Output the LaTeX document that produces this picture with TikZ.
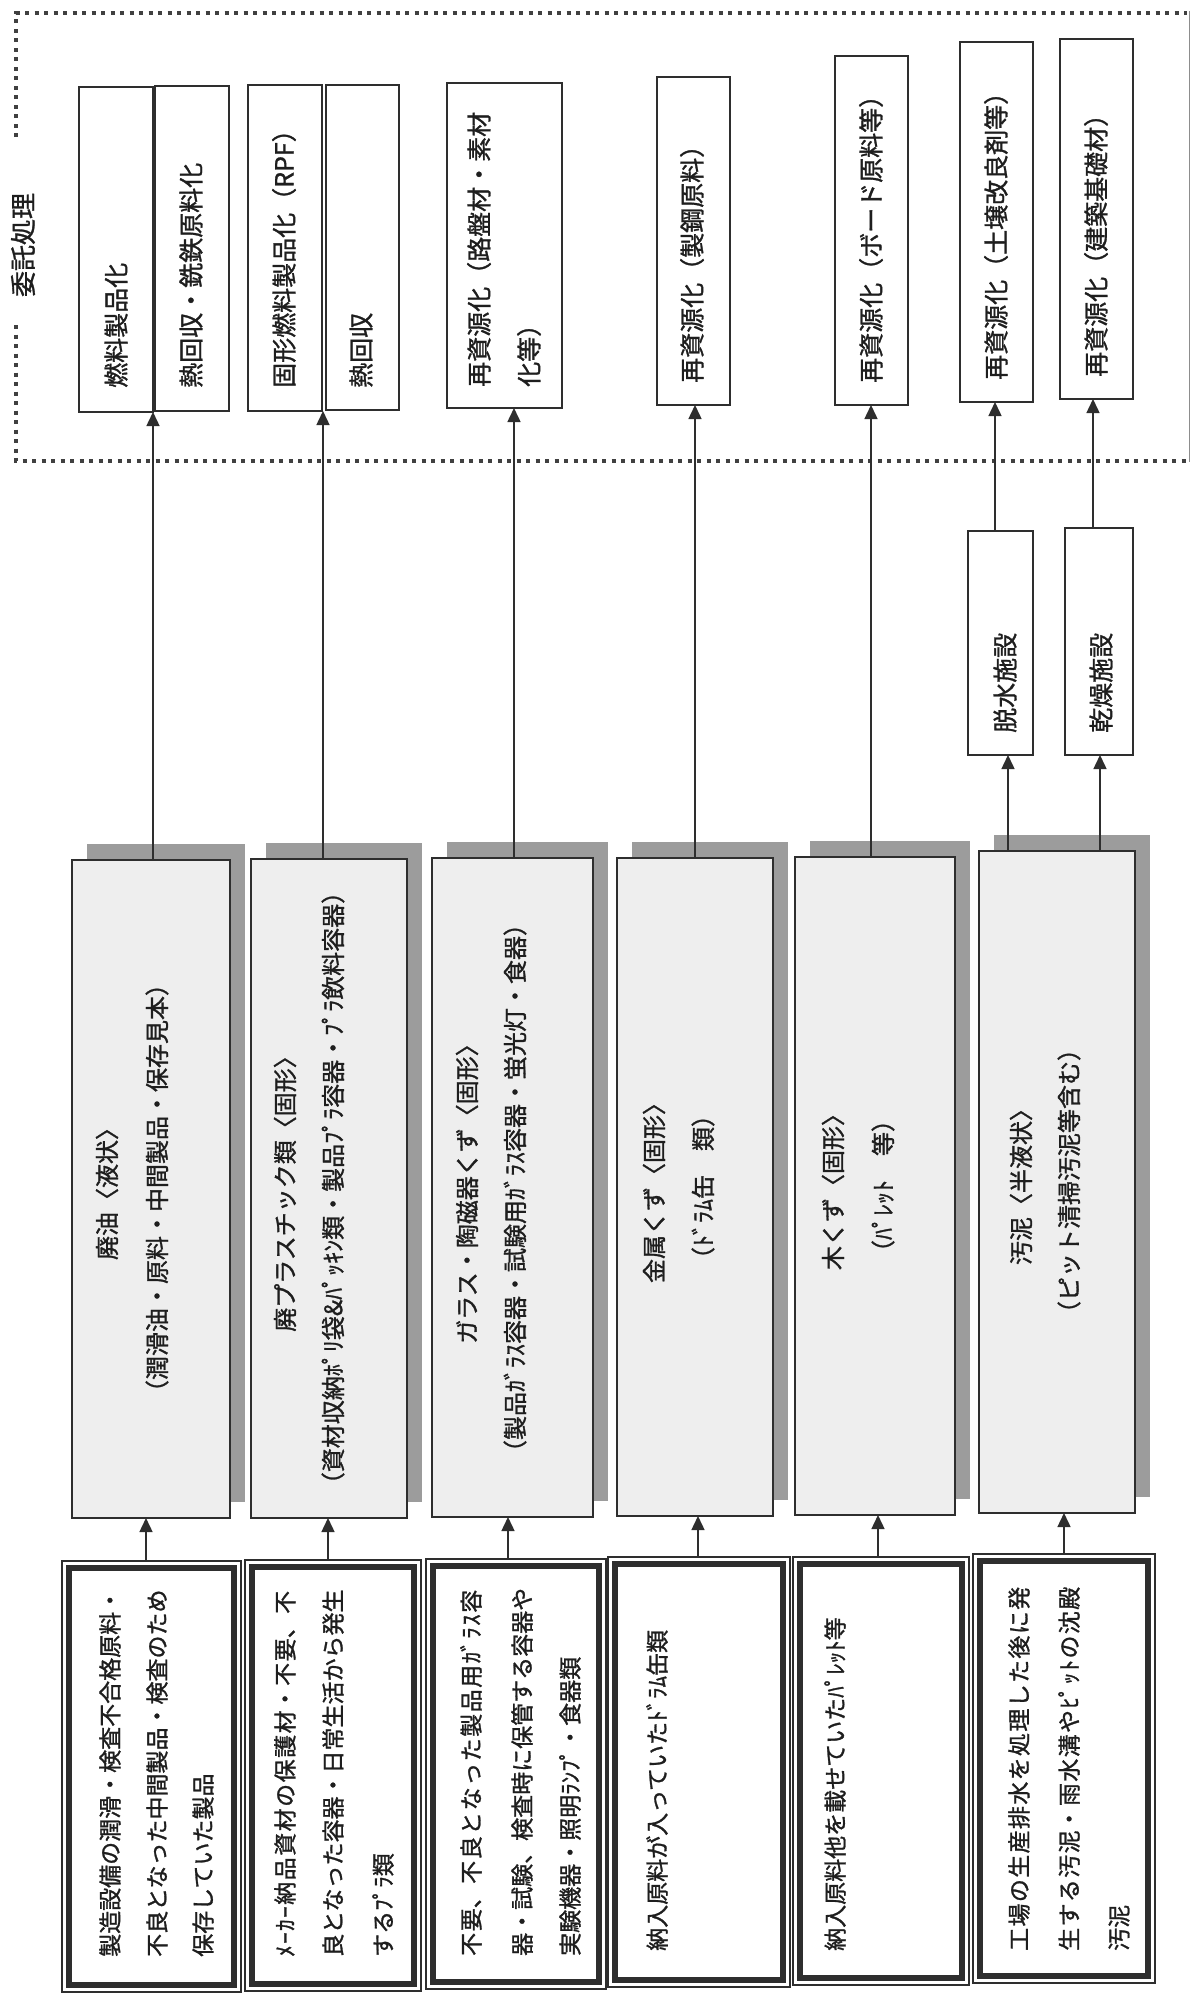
\documentclass[tikz,border=0pt]{standalone}
\usepackage{fontspec}
\newfontfamily\jp[FakeBold=1.2]{Noto Sans CJK JP}
\usetikzlibrary{arrows.meta,fit,calc,shadows}
\newcommand\jline[2]{\parbox{#1}{\XeTeXlinebreaklocale "ja"\XeTeXlinebreakskip=0pt plus 1fil\relax\parfillskip=0pt\parindent=0pt\leftskip=0pt\rightskip=0pt #2}}
\definecolor{linec}{HTML}{2E2E2E}
\definecolor{txtc}{HTML}{1E1E1E}
\definecolor{midc}{HTML}{EEEEEE}
\definecolor{shadc}{HTML}{9C9C9C}
\definecolor{dotc}{HTML}{404040}
\tikzset{
  tbox/.style={draw=linec, line width=1.4pt, fill=white, inner sep=0pt, outer sep=0pt},
  mbox/.style={draw=linec, line width=1.8pt, fill=midc, inner sep=0pt, outer sep=0pt,
     drop shadow={shadow xshift=15pt, shadow yshift=16pt, opacity=1, fill=shadc}},
  sbox/.style={draw=linec, line width=1.1pt, fill=white, inner sep=0pt, outer sep=0pt},
  arr/.style={draw=linec, line width=1.5pt, -{Triangle[length=14pt,width=13pt]}},
  rt/.style={rotate=90, inner sep=0pt, text=txtc},
  ttext/.style={rt, anchor=west, font=\jp\fontsize{25}{30}\selectfont},
  mtext/.style={rt, anchor=center, font=\jp\fontsize{24}{29}\selectfont},
  stext/.style={rt, anchor=west, font=\jp\fontsize{23}{28}\selectfont},
  dotline/.style={draw=dotc, line width=4pt, dash pattern=on 4pt off 5.5pt},
}
\newcommand\srcframe[1]{\draw[linec, line width=6pt] ($(#1.south west)+(7,-7)$) rectangle ($(#1.north east)+(-7,7)$);}
\begin{document}
\begin{tikzpicture}[x=1pt,y=-1pt]
\fill[white] (0,0) rectangle (1191,1998);
\useasboundingbox (0,0) rectangle (1191,1998);

% ---- outsourced processing frame ----
\draw[dotline] (16,137) -- (16,13) -- (1187,13);
\draw[dotline] (16,325) -- (16,461) -- (1187,461);
\draw[dotc!60, line width=1pt] (1189,11) -- (1189,462);
\node[rt, anchor=center, font=\jp\fontsize{26}{30}\selectfont] (lab) at (23,245) {委託処理};

% ---- target boxes ----
\node[tbox, fit={(79,87)(153,412)}] (t1a) {};
\node[tbox, fit={(155,86)(229,411)}] (t1b) {};
\node[tbox, fit={(248,85)(322,411)}] (t2a) {};
\node[tbox, fit={(326,85)(399,410)}] (t2b) {};
\node[tbox, fit={(447,83)(562,408)}] (t3) {};
\node[tbox, fit={(657,77)(730,405)}] (t4) {};
\node[tbox, fit={(835,56)(908,405)}] (t5) {};
\node[tbox, fit={(960,42)(1033,402)}] (t6) {};
\node[tbox, fit={(1060,39)(1133,399)}] (t7) {};

\node[ttext] (t1aL) at (116,388) {燃料製品化};
\node[ttext] (t1bL) at (191,388) {熱回収・銑鉄原料化};
\node[ttext] (t2aL) at (284,388) {固形燃料製品化（RPF）};
\node[ttext] (t2bL) at (361,388) {熱回収};
\node[ttext] (t3L1) at (479,387) {再資源化（路盤材・素材};
\node[ttext] (t3L2) at (529,387) {化等）};
\node[ttext] (t4L) at (692,383) {再資源化（製鋼原料）};
\node[ttext] (t5L) at (871,383) {再資源化（ボード原料等）};
\node[ttext] (t6L) at (996,380) {再資源化（土壌改良剤等）};
\node[ttext] (t7L) at (1096,377) {再資源化（建築基礎材）};

% ---- intermediate facilities ----
\node[tbox, fit={(968,531)(1033,755)}] (d1) {};
\node[tbox, fit={(1065,528)(1133,755)}] (d2) {};
\node[ttext] (d1L) at (1005,733) {脱水施設};
\node[ttext] (d2L) at (1101,733) {乾燥施設};

% ---- waste category boxes ----
\node[mbox, fit={(72,860)(230,1518)}] (m1) {};
\node[mbox, fit={(251,859)(407,1518)}] (m2) {};
\node[mbox, fit={(432,858)(593,1517)}] (m3) {};
\node[mbox, fit={(617,858)(773,1516)}] (m4) {};
\node[mbox, fit={(795,857)(955,1515)}] (m5) {};
\node[mbox, fit={(979,851)(1135,1513)}] (m6) {};

\node[mtext] (m1L1) at (107,1188) {廃油〈液状〉};
\node[mtext] (m1L2) at (157,1188) {（潤滑油・原料・中間製品・保存見本）};
\node[mtext] (m2L1) at (285,1188) {廃プラスチック類〈固形〉};
\node[mtext] (m2L2) at (333,1188) {（資材収納ﾎﾟﾘ袋\&ﾊﾟｯｷﾝ類・製品ﾌﾟﾗ容器・ﾌﾟﾗ飲料容器）};
\node[mtext] (m3L1) at (467,1188) {ガラス・陶磁器くず〈固形〉};
\node[mtext] (m3L2) at (515,1188) {（製品ｶﾞﾗｽ容器・試験用ｶﾞﾗｽ容器・蛍光灯・食器）};
\node[mtext] (m4L1) at (654,1187) {金属くず〈固形〉};
\node[mtext] (m4L2) at (703,1187) {（ﾄﾞﾗﾑ缶　類）};
\node[mtext] (m5L1) at (833,1186) {木くず〈固形〉};
\node[mtext] (m5L2) at (883,1186) {（ﾊﾟﾚｯﾄ　等）};
\node[mtext] (m6L1) at (1021,1181) {汚泥〈半液状〉};
\node[mtext] (m6L2) at (1069,1181) {（ピット清掃汚泥等含む）};

% ---- source boxes ----
\node[sbox, fit={(62,1561)(241,1992)}] (s1) {};
\node[sbox, fit={(245,1560)(421,1991)}] (s2) {};
\node[sbox, fit={(426,1559)(606,1989)}] (s3) {};
\node[sbox, fit={(608,1557)(790,1987)}] (s4) {};
\node[sbox, fit={(793,1557)(969,1985)}] (s5) {};
\node[sbox, fit={(973,1554)(1155,1983)}] (s6) {};
\srcframe{s1}\srcframe{s2}\srcframe{s3}\srcframe{s4}\srcframe{s5}\srcframe{s6}

\node[stext] (s1L1) at (110,1957) {製造設備の潤滑・検査不合格原料・};
\node[stext] (s1L2) at (157,1957) {不良となった中間製品・検査のため};
\node[stext] (s1L3) at (203,1957) {保存していた製品};
\node[stext] (s2L1) at (285,1957) {\jline{366pt}{ﾒｰｶｰ納品資材の保護材・不要、不}};
\node[stext] (s2L2) at (333,1957) {良となった容器・日常生活から発生};
\node[stext] (s2L3) at (383,1957) {するﾌﾟﾗ類};
\node[stext] (s3L1) at (471,1956) {\jline{366pt}{不要、不良となった製品用ｶﾞﾗｽ容}};
\node[stext] (s3L2) at (522,1956) {器・試験、検査時に保管する容器や};
\node[stext] (s3L3) at (570,1956) {実験機器・照明ﾗﾝﾌﾟ・食器類};
\node[stext] (s4L1) at (657,1951) {納入原料が入っていたﾄﾞﾗﾑ缶類};
\node[stext] (s5L1) at (835,1951) {納入原料他を載せていたﾊﾟﾚｯﾄ等};
\node[stext] (s6L1) at (1019,1951) {\jline{364pt}{工場の生産排水を処理した後に発}};
\node[stext] (s6L2) at (1069,1951) {\jline{364pt}{生する汚泥・雨水溝やﾋﾟｯﾄの沈殿}};
\node[stext] (s6L3) at (1119,1951) {汚泥};

% ---- connector x positions ----
\coordinate (x1) at (146,0);
\coordinate (x2) at (328,0);
\coordinate (x3) at (508,0);
\coordinate (x4) at (698,0);
\coordinate (x5) at (878,0);
\coordinate (x6) at (1064,0);
\coordinate (y1) at (153,0);
\coordinate (y2) at (323,0);
\coordinate (y3) at (514,0);
\coordinate (y4) at (695,0);
\coordinate (y5) at (871,0);
\coordinate (y6) at (1008,0);
\coordinate (y7) at (1100,0);
\coordinate (z6) at (995,0);
\coordinate (z7) at (1093,0);

% sources -> categories
\draw[arr] (s1.north -| x1) -- (m1.south -| x1);
\draw[arr] (s2.north -| x2) -- (m2.south -| x2);
\draw[arr] (s3.north -| x3) -- (m3.south -| x3);
\draw[arr] (s4.north -| x4) -- (m4.south -| x4);
\draw[arr] (s5.north -| x5) -- (m5.south -| x5);
\draw[arr] (s6.north -| x6) -- (m6.south -| x6);
% categories -> treatment
\draw[arr] (m1.north -| y1) -- (t1a.south -| y1);
\draw[arr] (m2.north -| y2) -- (t2a.south -| y2);
\draw[arr] (m3.north -| y3) -- (t3.south -| y3);
\draw[arr] (m4.north -| y4) -- (t4.south -| y4);
\draw[arr] (m5.north -| y5) -- (t5.south -| y5);
\draw[arr] (m6.north -| y6) -- (d1.south -| y6);
\draw[arr] (m6.north -| y7) -- (d2.south -| y7);
\draw[arr] (d1.north -| z6) -- (t6.south -| z6);
\draw[arr] (d2.north -| z7) -- (t7.south -| z7);
\end{tikzpicture}
\end{document}
